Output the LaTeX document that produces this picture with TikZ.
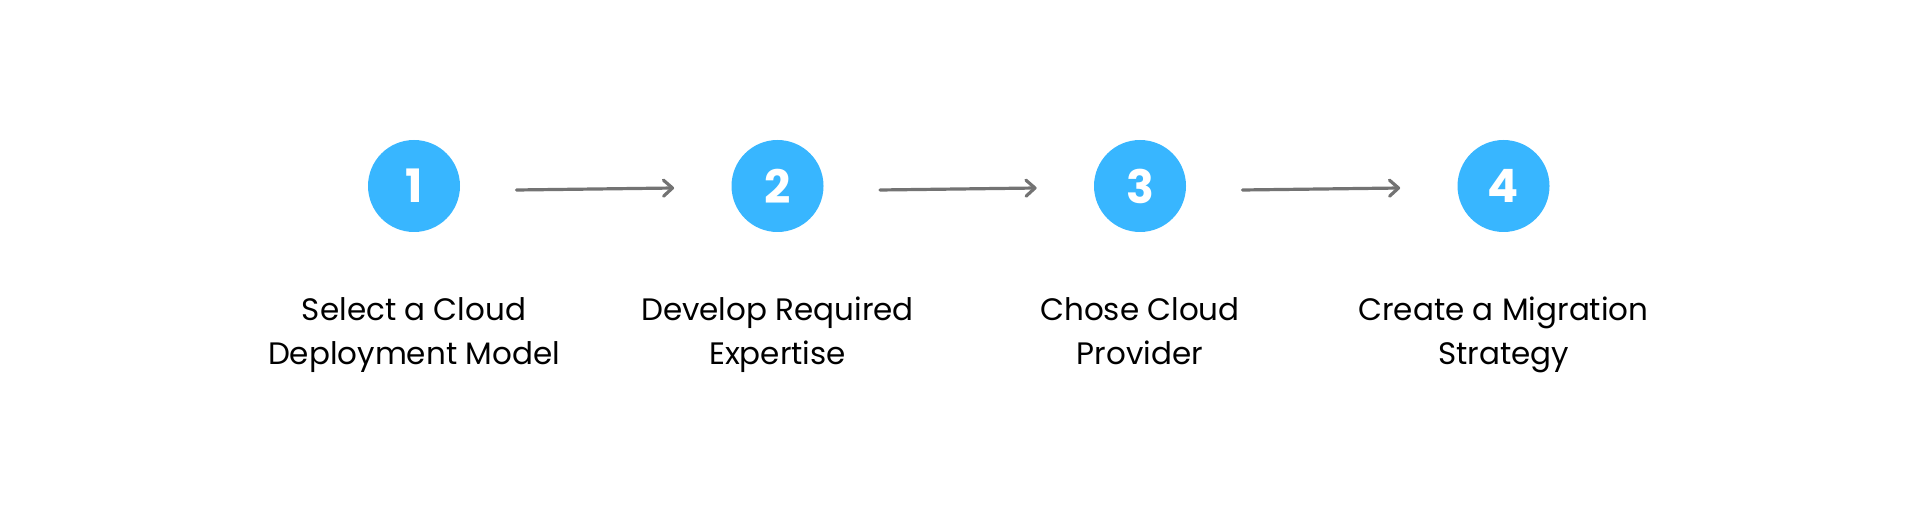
\documentclass[tikz,border=0pt]{standalone}
\usepackage{fontspec}
\setmainfont{Poppins}
\usetikzlibrary{arrows.meta,positioning,calc}
\definecolor{stepblue}{HTML}{38B6FF}
\definecolor{arrowgray}{HTML}{737373}

\begin{document}
\begin{tikzpicture}[x=0.5pt,y=0.5pt,
    stepdot/.style={circle,fill=stepblue,minimum size=46pt,inner sep=0pt,
      text=white,font=\bfseries\fontsize{23}{23}\selectfont},
    steplabel/.style={align=center,anchor=base,inner sep=0pt,
      font=\fontsize{15.5}{22}\selectfont},
    flow/.style={draw=arrowgray,line width=1.6pt,line cap=round,
      -{Straight Barb[length=4.5pt,width=8pt,line cap=round,line join=round]}}]
  \useasboundingbox (0,0) rectangle (1920,530);
  % steps
  \node[stepdot] (c1) at (414,344) {1};
  \node[stepdot] (c2) at (777.5,344) {2};
  \node[stepdot] (c3) at (1140,344) {3};
  \node[stepdot] (c4) at (1503.5,344) {4};
  % labels
  \node[steplabel] (t1) at (414,165) {Select a Cloud\\Deployment Model};
  \node[steplabel] (t2) at (777.5,165) {Develop Required\\Expertise};
  \node[steplabel] (t3) at (1140,165) {Chose Cloud\\Provider};
  \node[steplabel] (t4) at (1503.5,165) {Create a Migration\\Strategy};
  % arrows
  \draw[flow] ([xshift=28pt,yshift=-2pt]c1.east) -- ([xshift=-28.5pt,yshift=-1pt]c2.west);
  \draw[flow] ([xshift=28pt,yshift=-2pt]c2.east) -- ([xshift=-28.5pt,yshift=-1pt]c3.west);
  \draw[flow] ([xshift=28pt,yshift=-2pt]c3.east) -- ([xshift=-28.5pt,yshift=-1pt]c4.west);
\end{tikzpicture}
\end{document}
